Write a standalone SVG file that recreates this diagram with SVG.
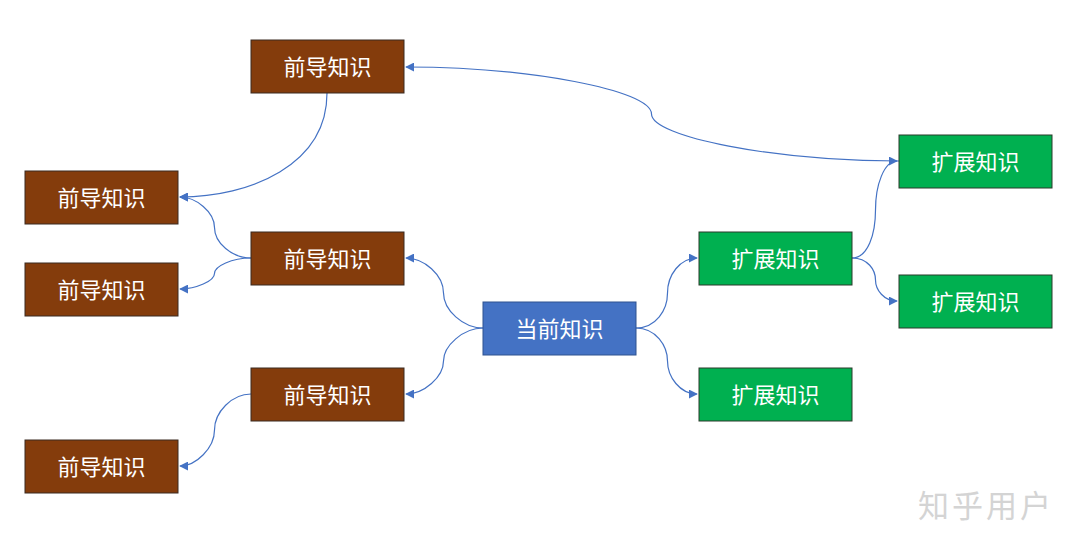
<svg xmlns="http://www.w3.org/2000/svg" width="1081" height="541" viewBox="0 0 1081 541">
<defs>
<marker id="arr" viewBox="0 0 10 10" refX="9" refY="5" markerWidth="9" markerHeight="9" markerUnits="userSpaceOnUse" orient="auto">
<path d="M0,0 L10,5 L0,10 z" fill="#4472C4"/>
</marker>
<style>
.pre{fill:#843C0C;stroke:#3a2a20;stroke-width:1}
.ext{fill:#00B050;stroke:#2a3a2a;stroke-width:1}
.cur{fill:#4472C4;stroke:#2F528F;stroke-width:1}
.lbl{font-family:"Noto Sans CJK SC","Noto Sans CJK JP",sans-serif;font-size:22px;fill:#ffffff;text-anchor:middle;dominant-baseline:central}
.c{fill:none;stroke:#4472C4;stroke-width:1.2;marker-end:url(#arr)}
</style>
</defs>
<rect width="1081" height="541" fill="#ffffff"/>
<g id="connectors">
<path class="c" d="M899,161 C775,161 651.5,137 651.5,114 C651.5,90 528,67 406,67"/>
<path class="c" d="M327,93 C327,165 250,197 180,197"/>
<path class="c" d="M251,258 C232,258 214.5,243 214.5,227.5 C214.5,212 196,197 180,197"/>
<path class="c" d="M251,258 C232,258 214.5,266 214.5,273.5 C214.5,281 196,289 180,289"/>
<path class="c" d="M483,328 C463,328 443.5,310 443.5,293 C443.5,275 424,258 406,258"/>
<path class="c" d="M483,328 C463,328 443.5,346 443.5,361 C443.5,377 424,394 406,394"/>
<path class="c" d="M251,394 C232,394 214.5,412 214.5,430 C214.5,448 196,466 180,466"/>
<path class="c" d="M636,328 C656,328 667.5,310 667.5,293 C667.5,275 680,258 697,258"/>
<path class="c" d="M636,328 C656,328 667.5,346 667.5,361 C667.5,377 680,394 697,394"/>
<path class="c" d="M852,258 C868,258 875.5,234 875.5,210 C875.5,185 884,161 897,161"/>
<path class="c" d="M852,258 C868,258 875.5,270 875.5,280 C875.5,290 884,301 897,301"/>
</g>
<g id="pre1"><rect class="pre" x="251" y="40" width="153" height="53"/><text class="lbl" x="327.5" y="65">前导知识</text></g>
<g id="pre2"><rect class="pre" x="25" y="171" width="153" height="53"/><text class="lbl" x="101.5" y="196">前导知识</text></g>
<g id="pre3"><rect class="pre" x="251" y="232" width="153" height="53"/><text class="lbl" x="327.5" y="257">前导知识</text></g>
<g id="pre4"><rect class="pre" x="25" y="263" width="153" height="53"/><text class="lbl" x="101.5" y="288">前导知识</text></g>
<g id="pre5"><rect class="pre" x="251" y="368" width="153" height="53"/><text class="lbl" x="327.5" y="393">前导知识</text></g>
<g id="pre6"><rect class="pre" x="25" y="440" width="153" height="53"/><text class="lbl" x="101.5" y="465">前导知识</text></g>
<g id="current"><rect class="cur" x="483" y="302" width="153" height="53"/><text class="lbl" x="559.5" y="327">当前知识</text></g>
<g id="ext1"><rect class="ext" x="699" y="232" width="153" height="53"/><text class="lbl" x="775.5" y="257">扩展知识</text></g>
<g id="ext2"><rect class="ext" x="899" y="135" width="153" height="53"/><text class="lbl" x="975.5" y="160">扩展知识</text></g>
<g id="ext3"><rect class="ext" x="899" y="275" width="153" height="53"/><text class="lbl" x="975.5" y="300">扩展知识</text></g>
<g id="ext4"><rect class="ext" x="699" y="368" width="153" height="53"/><text class="lbl" x="775.5" y="393">扩展知识</text></g>
<text x="986" y="503" font-family="Noto Sans CJK SC,sans-serif" font-size="31" fill="#d4d4d4" text-anchor="middle" dominant-baseline="central" letter-spacing="3">知乎用户</text>
</svg>
